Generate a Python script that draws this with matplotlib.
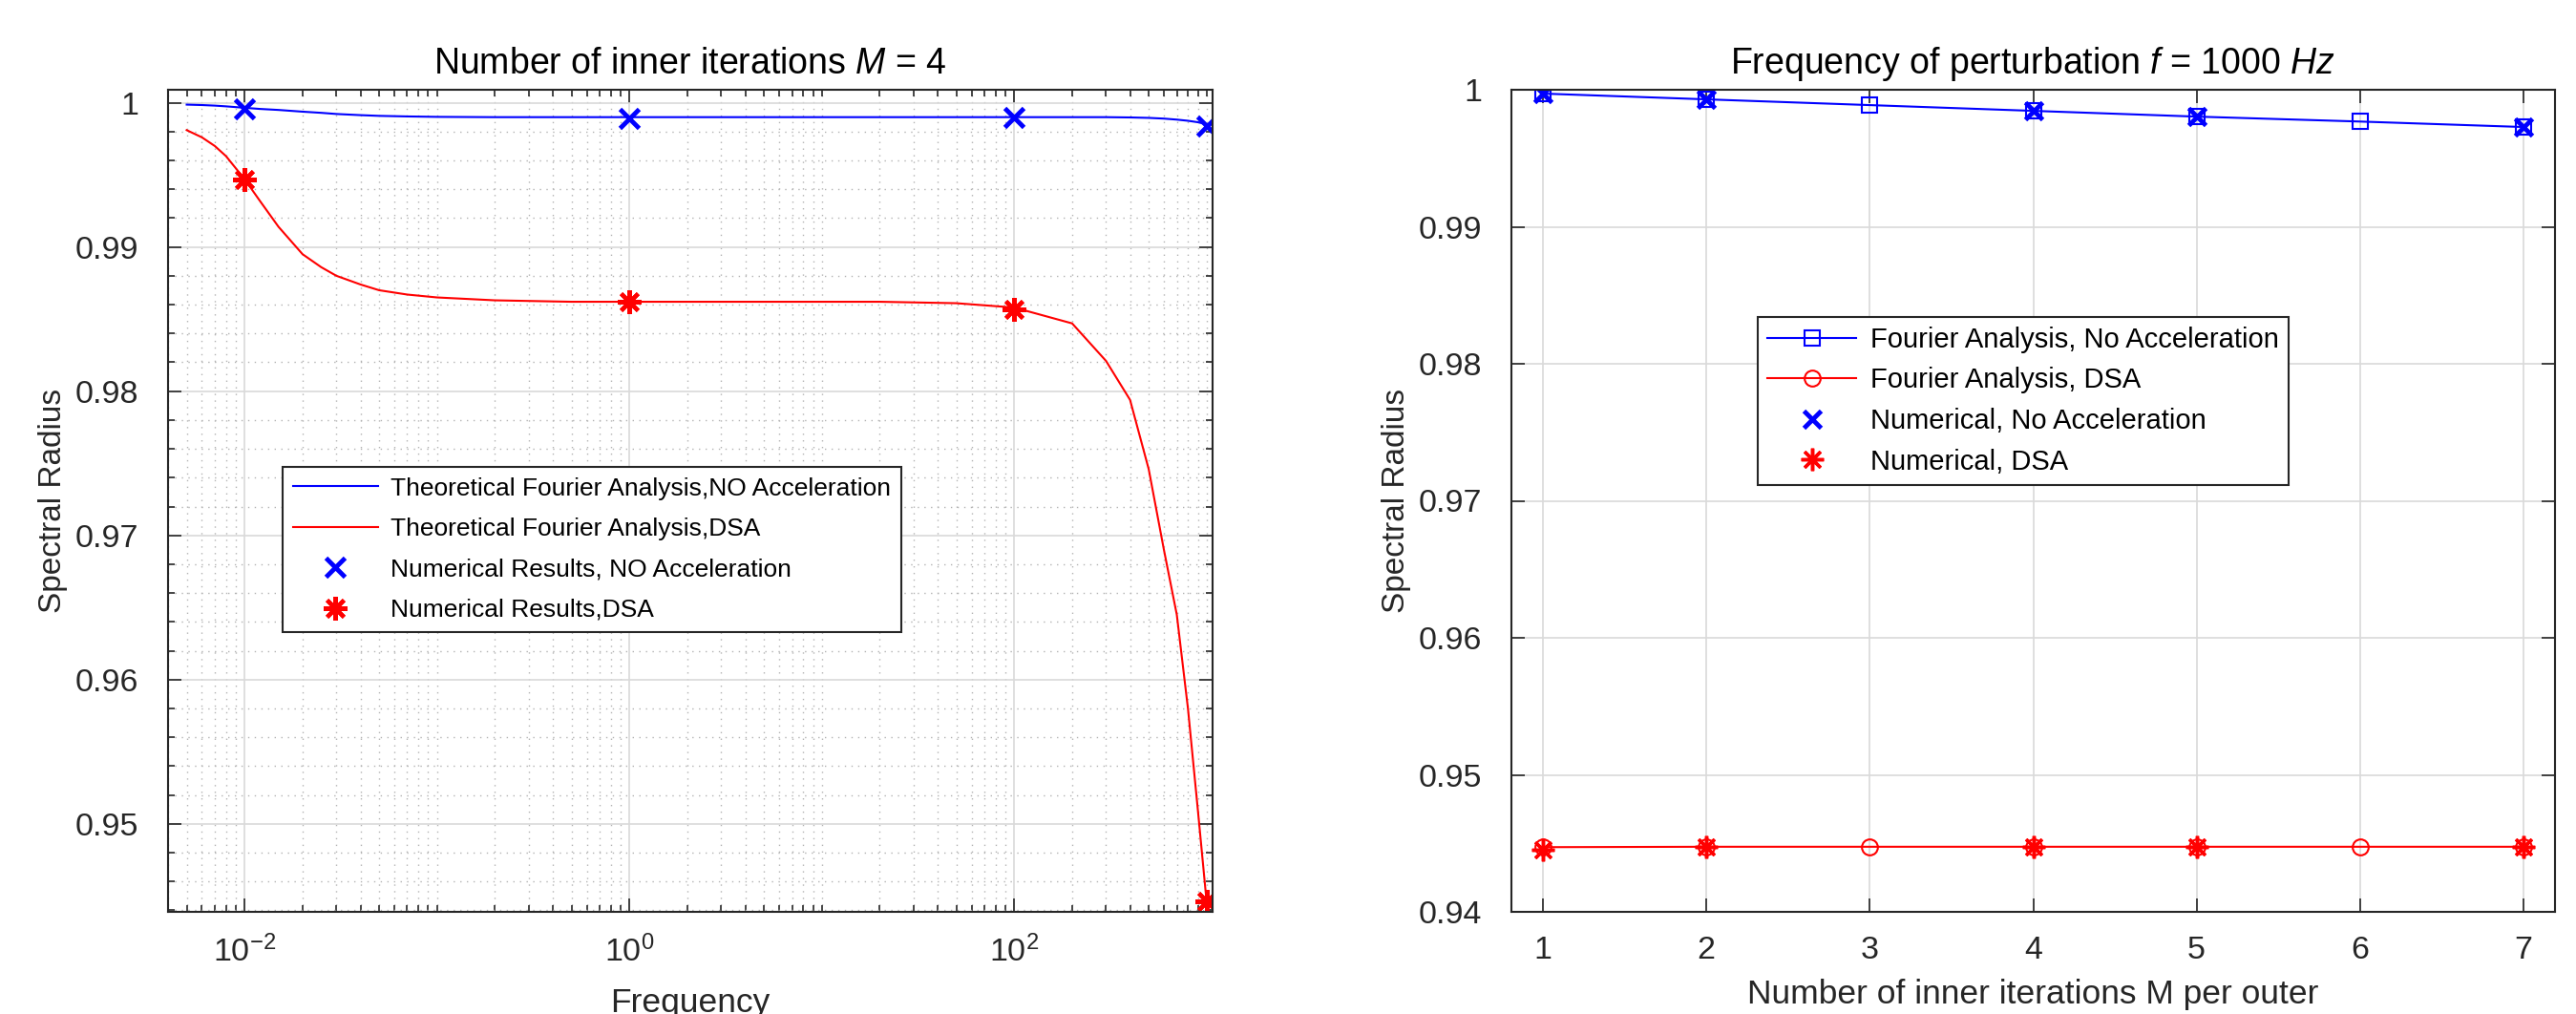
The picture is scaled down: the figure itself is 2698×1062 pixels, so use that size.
import numpy as np
import matplotlib
matplotlib.use("Agg")
import matplotlib.pyplot as plt
from matplotlib.ticker import LogLocator, FixedLocator, MultipleLocator, NullFormatter

plt.rcParams["font.family"] = ["Liberation Sans", "DejaVu Sans"]
plt.rcParams["mathtext.fontset"] = "custom"
plt.rcParams["mathtext.rm"] = "Liberation Sans"
plt.rcParams["mathtext.it"] = "Liberation Sans:italic"

# left panel: spectral radius vs frequency (M = 4)
freq_theory = [0.005, 0.006, 0.007, 0.008, 0.01, 0.012, 0.015, 0.02, 0.025, 0.03, 0.04,
               0.05, 0.07, 0.1, 0.2, 0.5, 1, 2, 5, 10, 20, 50, 100, 200, 300, 400, 500,
               600, 700, 800, 900, 1000]
rho_noacc_theory = [0.99987, 0.99984, 0.9998, 0.99975, 0.99965, 0.99957, 0.9995, 0.99938,
                    0.9993, 0.99922, 0.99914, 0.99909, 0.99905, 0.99902, 0.999, 0.999,
                    0.999, 0.999, 0.999, 0.999, 0.999, 0.999, 0.999, 0.999, 0.999,
                    0.99898, 0.99895, 0.9989, 0.99883, 0.99875, 0.99865, 0.9985]
rho_dsa_theory = [0.9981, 0.9976, 0.9970, 0.9963, 0.9947, 0.9932, 0.9914, 0.9895, 0.9886,
                  0.9880, 0.9874, 0.9870, 0.9867, 0.9865, 0.9863, 0.9862, 0.9862, 0.9862,
                  0.9862, 0.9862, 0.9862, 0.9861, 0.9858, 0.9847, 0.9821, 0.9794, 0.9746,
                  0.9690, 0.9645, 0.9580, 0.9510, 0.9446]
freq_num = [0.01, 1, 100, 1000]
rho_noacc_num = [0.9996, 0.9989, 0.9990, 0.9984]
rho_dsa_num = [0.9947, 0.9862, 0.9857, 0.9446]

# right panel: spectral radius vs inner iterations (f = 1000 Hz)
m_theory = [1, 2, 3, 4, 5, 6, 7]
rho_noacc_m = [0.99972, 0.9993, 0.99888, 0.99846, 0.99804, 0.99768, 0.99728]
rho_dsa_m = [0.94472, 0.94475, 0.94475, 0.94475, 0.94475, 0.94475, 0.94475]
m_num = [1, 2, 4, 5, 7]
rho_noacc_m_num = [0.99972, 0.9993, 0.99846, 0.99804, 0.99728]
rho_dsa_m_num = [0.9445, 0.94475, 0.94475, 0.94475, 0.94475]

BLUE = (0, 0, 1)
RED = (1, 0, 0)
AX_COL = (0.15, 0.15, 0.15)
ASTERISK = (8, 2, 0)

TICK_FS = 24.5
TITLE_FS = 27
XLABEL_FS = 25.5
YLABEL_FS = 24

fig = plt.figure(figsize=(26.98, 10.62), dpi=100)
ax1 = fig.add_axes([176 / 2698, 1 - 955 / 1062, 1094 / 2698, 861 / 1062])
ax2 = fig.add_axes([1583 / 2698, 1 - 955 / 1062, 1093 / 2698, 861 / 1062])


def style_axes(ax):
    for s in ax.spines.values():
        s.set_color(AX_COL)
        s.set_linewidth(1.5)
    ax.tick_params(which="both", direction="in", top=True, right=True,
                   colors=AX_COL, labelsize=TICK_FS, width=1.2)
    ax.tick_params(which="major", length=10)
    ax.tick_params(which="minor", length=5)
    ax.tick_params(axis="y", which="major", pad=22)
    ax.tick_params(axis="x", which="major", pad=18)


def fmt_y(v, p):
    return "1" if abs(v - 1) < 1e-9 else f"{v:.2f}"


def make_legend(ax, x0, y0, fs, hl, ls, bp):
    leg = ax.legend(loc="upper left", bbox_to_anchor=(x0 / 2698, 1 - y0 / 1062),
                    bbox_transform=fig.transFigure, fontsize=fs, frameon=True,
                    fancybox=False, edgecolor=AX_COL, framealpha=1, handlelength=hl,
                    labelspacing=ls, borderpad=bp, handletextpad=0.5, borderaxespad=0)
    leg.get_frame().set_linewidth(1.5)
    return leg


# ---- left
ax1.semilogx(freq_theory, rho_noacc_theory, color=BLUE, lw=1.5,
             label="Theoretical Fourier Analysis,NO Acceleration")
ax1.semilogx(freq_theory, rho_dsa_theory, color=RED, lw=1.5,
             label="Theoretical Fourier Analysis,DSA")
ax1.semilogx(freq_num, rho_noacc_num, ls="none", marker="x", color=BLUE,
             ms=14, mew=3.5, label="Numerical Results, NO Acceleration")
ax1.semilogx(freq_num, rho_dsa_num, ls="none", marker=ASTERISK, color=RED,
             ms=18, mew=3, label="Numerical Results,DSA")
ax1.set_xlim(0.004, 1074)
ax1.set_ylim(0.9439, 1.0009)
ax1.xaxis.set_major_locator(FixedLocator([1e-2, 1e0, 1e2]))
ax1.xaxis.set_minor_locator(LogLocator(base=10, subs=np.arange(1, 10), numticks=30))
ax1.xaxis.set_minor_formatter(NullFormatter())
ax1.yaxis.set_major_locator(FixedLocator([0.95, 0.96, 0.97, 0.98, 0.99, 1.0]))
ax1.yaxis.set_major_formatter(plt.FuncFormatter(fmt_y))
ax1.yaxis.set_minor_locator(MultipleLocator(0.002))
ax1.grid(which="major", color=(0.85, 0.85, 0.85), lw=1.2)
ax1.grid(which="minor", color=(0.7, 0.7, 0.7), lw=1.0, ls=(0, (1, 4)))
ax1.set_axisbelow(True)
style_axes(ax1)
ax1.set_title("Number of inner iterations $M$ = 4", fontsize=TITLE_FS, color="black", pad=12)
ax1.set_xlabel("Frequency", fontsize=XLABEL_FS, color=AX_COL, labelpad=14)
ax1.set_ylabel("Spectral Radius", fontsize=YLABEL_FS, color=AX_COL, labelpad=6)
make_legend(ax1, 296, 489, fs=19, hl=3.4, ls=0.7, bp=0.4)

# ---- right
ax2.plot(m_theory, rho_noacc_m, color=BLUE, lw=1.5, marker="s", ms=11,
         mfc="none", mew=1.5, label="Fourier Analysis, No Acceleration")
ax2.plot(m_theory, rho_dsa_m, color=RED, lw=1.5, marker="o", ms=12,
         mfc="none", mew=1.5, label="Fourier Analysis, DSA")
ax2.plot(m_num, rho_noacc_m_num, ls="none", marker="x", color=BLUE,
         ms=13, mew=3.5, label="Numerical, No Acceleration")
ax2.plot(m_num, rho_dsa_m_num, ls="none", marker=ASTERISK, color=RED,
         ms=17, mew=2.5, label="Numerical, DSA")
ax2.set_xlim(0.807, 7.193)
ax2.set_ylim(0.94, 1.0)
ax2.set_xticks(range(1, 8))
ax2.set_yticks([0.94, 0.95, 0.96, 0.97, 0.98, 0.99, 1.0])
ax2.yaxis.set_major_formatter(plt.FuncFormatter(fmt_y))
ax2.grid(which="major", color=(0.85, 0.85, 0.85), lw=1.2)
ax2.set_axisbelow(True)
style_axes(ax2)
ax2.set_title("Frequency of perturbation $f$ = $\\mathit{1000\\ Hz}$", fontsize=TITLE_FS,
              color="black", pad=12)
ax2.set_xlabel("Number of inner iterations M per outer", fontsize=XLABEL_FS, color=AX_COL, labelpad=10)
ax2.set_ylabel("Spectral Radius", fontsize=YLABEL_FS, color=AX_COL, labelpad=6)
make_legend(ax2, 1841, 332, fs=21, hl=3.2, ls=0.5, bp=0.34)

fig.savefig("out.png", dpi=100, facecolor="white")
